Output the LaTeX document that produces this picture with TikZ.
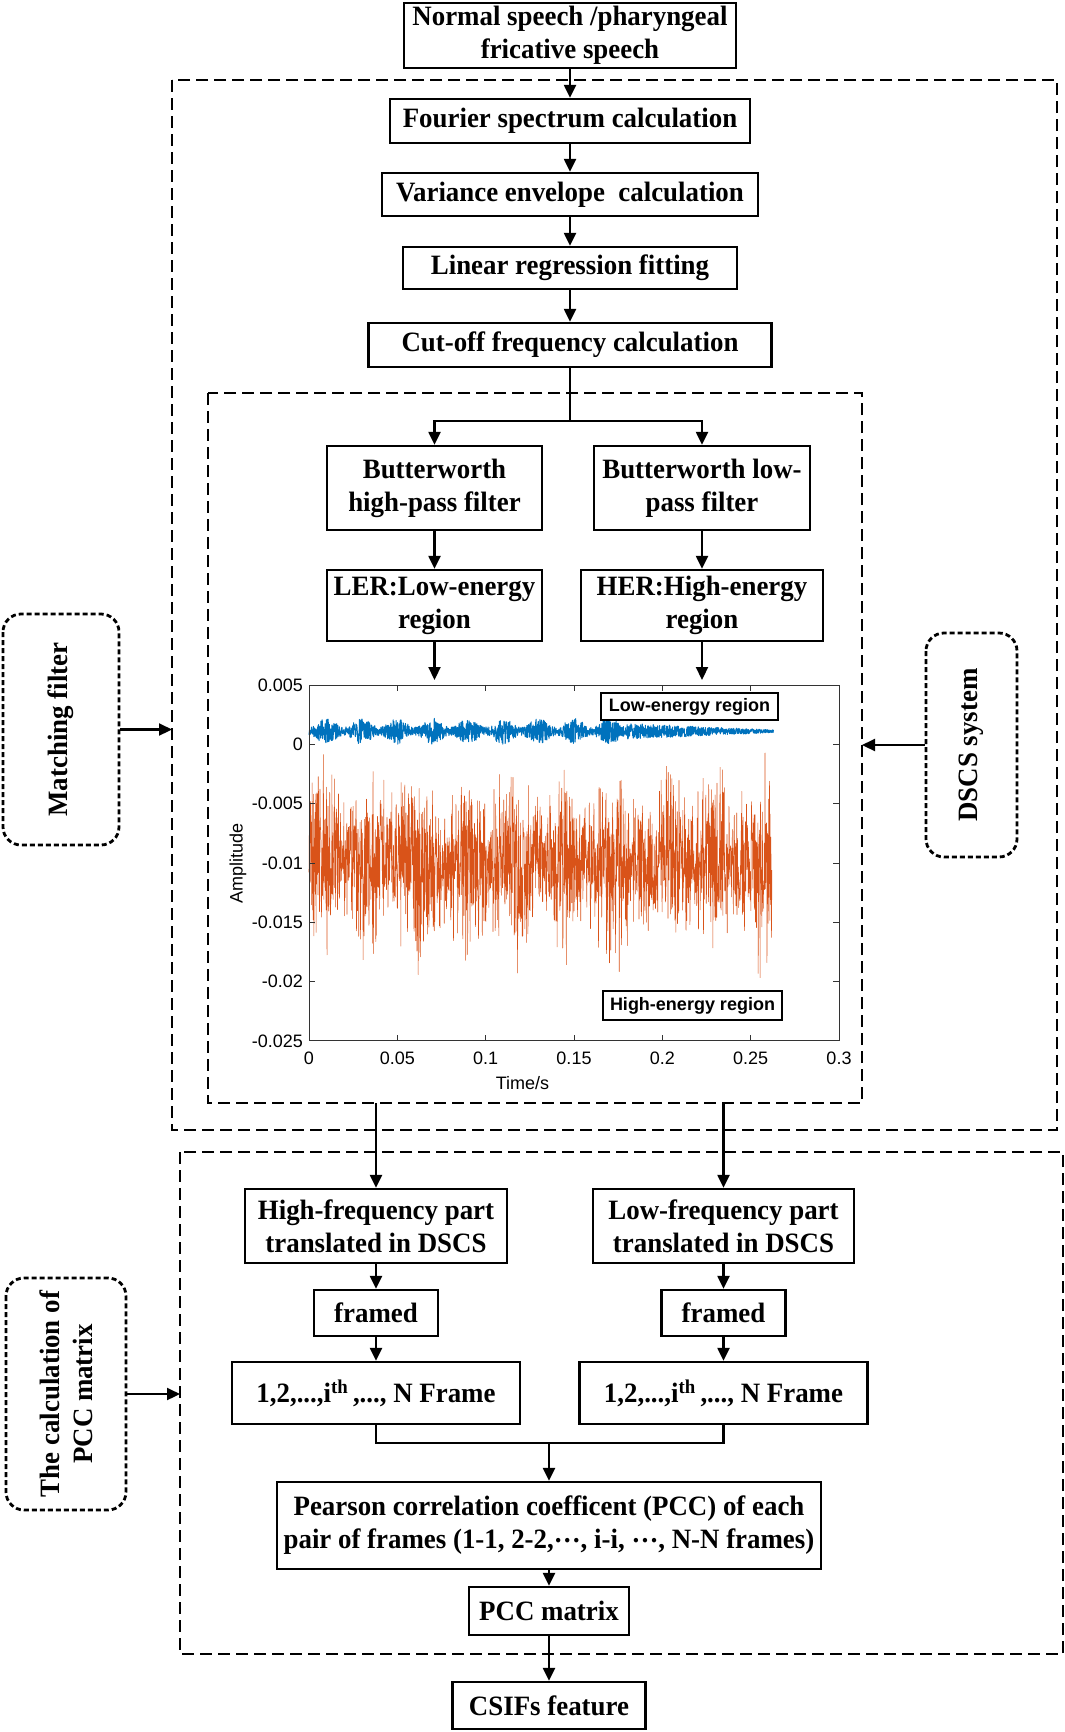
\documentclass[tikz,border=0pt]{standalone}
\usepackage{fontspec}
\setmainfont{Liberation Serif}[FakeStretch=0.96]
\newfontfamily\plotfont{Liberation Sans}
\usetikzlibrary{arrows.meta}
\definecolor{mlblue}{rgb}{0,0.447,0.741}
\definecolor{mlorange}{rgb}{0.85,0.325,0.098}
\newcommand{\mdots}{\raisebox{0.22em}{…}}
\begin{document}
\begin{tikzpicture}[x=1pt,y=-1pt,
  box/.style={draw, line width=2.3pt, fill=white, align=center, inner sep=0pt, font=\bfseries\fontsize{28}{33}\selectfont},
  arr/.style={line width=2.2pt, -{Triangle[length=13pt,width=12pt]}},
  ln/.style={line width=2.2pt},
  region/.style={draw, line width=1.4pt, dash pattern=on 12pt off 6pt},
  side/.style={draw, line width=2.8pt, dash pattern=on 5pt off 3pt, rounded corners=18pt, inner sep=0pt, align=center, rotate=90, font=\bfseries\fontsize{28}{33}\selectfont},
  tick/.style={font=\plotfont\fontsize{18}{20}\selectfont, inner sep=0pt},
  legend/.style={draw, line width=1.4pt, fill=white, font=\plotfont\bfseries\fontsize{18}{20}\selectfont, inner sep=0pt}
]
\useasboundingbox (0,0) rectangle (1065,1732);

% dashed regions
\draw[region] (172,80) rectangle (1057,1130);
\draw[region] (208,393) rectangle (862,1103);
\draw[region] (180,1152) rectangle (1063,1654);

% upper chain
\node[box, minimum width=332, minimum height=65] (src) at (570,35.5) {Normal speech /pharyngeal\\fricative speech};
\node[box, minimum width=360, minimum height=44] (fourier) at (570,121) {Fourier spectrum calculation};
\node[box, minimum width=376, minimum height=43] (variance) at (570,194.5) {Variance envelope \ calculation};
\node[box, minimum width=334, minimum height=42] (linear) at (570,268) {Linear regression fitting};
\node[box, minimum width=403, minimum height=44] (cutoff) at (570,345) {Cut-off frequency calculation};

\draw[arr] (src) -- (fourier);
\draw[arr] (fourier) -- (variance);
\draw[arr] (variance) -- (linear);
\draw[arr] (linear) -- (cutoff);

\node[box, minimum width=215, minimum height=84] (bwhp) at (434.5,488) {Butterworth\\high-pass filter};
\node[box, minimum width=216, minimum height=84] (bwlp) at (702,488) {Butterworth low-\\pass filter};
\node[box, minimum width=215, minimum height=71] (ler) at (434.5,605.5) {LER:Low-energy\\region};
\node[box, minimum width=242, minimum height=71] (her) at (702,605.5) {HER:High-energy\\region};

\coordinate (branch) at (570,421);
\draw[ln] (cutoff.south) -- (branch);
\draw[arr] (branch) -| (bwhp.north);
\draw[arr] (branch) -| (bwlp.north);
\draw[arr] (bwhp) -- (ler);
\draw[arr] (bwlp) -- (her);
\coordinate (plotL) at (434.5,680);
\coordinate (plotR) at (702,680);
\draw[arr] (ler.south) -- (plotL);
\draw[arr] (her.south) -- (plotR);

% plot
\begin{scope}[shift={(309,744.3)}, x=1.76667pt, y=11.86pt]
  \pgfmathsetseed{7}
  \draw[mlorange, line width=0.55pt, line join=round] plot[domain=0:262, samples=1900] (\x, {-10+3.1*(1+0.2*sin(\x*13))*(rand+rand+rand)});
  \draw[mlblue, line width=1pt, line join=round] plot[domain=0:263, samples=1900] (\x, {1.1+rand*((\x<180) ? (0.35+0.75*abs(sin(\x*9))^2) : (0.12+0.55*(263-\x)/83))});
  \draw[black!80, line width=0.8pt] (0,-25) rectangle (300,5);
  \foreach \v in {-20,-15,-10,-5,0} {
    \draw[black!80, line width=0.8pt] (0,\v) -- ++(6pt,0);
    \draw[black!80, line width=0.8pt] (300,\v) -- ++(-6pt,0);
  }
  \foreach \t in {50,100,150,200,250} {
    \draw[black!80, line width=0.8pt] (\t,-25) -- ++(0,6pt);
    \draw[black!80, line width=0.8pt] (\t,5) -- ++(0,-6pt);
  }
  \foreach \v/\l [count=\i] in {5/0.005, 0/0, -5/-0.005, -10/-0.01, -15/-0.015, -20/-0.02, -25/-0.025}
    \node[tick, anchor=east] (yl\i) at ([xshift=-6pt]0,\v) {\l};
  \foreach \t/\l [count=\i] in {0/0, 50/0.05, 100/0.1, 150/0.15, 200/0.2, 250/0.25, 300/0.3}
    \node[tick, anchor=north] (xl\i) at ([yshift=-11pt]\t,-25) {\l};
\end{scope}
\node[tick, rotate=90] (ylab) at (238,863) {Amplitude};
\node[tick] (xlab) at (522.5,1083) {Time/s};
\node[legend, minimum width=177, minimum height=27] (lowleg) at (689.5,706.5) {Low-energy region};
\node[legend, minimum width=179, minimum height=29] (highleg) at (692.5,1005.5) {High-energy region};

% side boxes
\node[side, minimum width=231, minimum height=116] (mf) at (61,729.5) {Matching filter};
\coordinate (mfT) at (172,729.5);
\draw[arr] (mf.south) -- (mfT);
\node[side, minimum width=224, minimum height=91] (dscs) at (971.5,745) {DSCS system};
\coordinate (dscsT) at (862,745);
\draw[arr] (dscs.north) -- (dscsT);
\node[side, minimum width=232, minimum height=120] (pccside) at (66,1394) {The calculation of\\PCC matrix};
\coordinate (pccT) at (180,1394);
\draw[arr] (pccside.south) -- (pccT);

% lower chain
\node[box, minimum width=262, minimum height=74] (hf) at (376,1226) {High-frequency part\\translated in DSCS};
\node[box, minimum width=261, minimum height=74] (lf) at (723.5,1226) {Low-frequency part\\translated in DSCS};
\coordinate (innerL) at (376,1103);
\coordinate (innerR) at (723.5,1103);
\draw[arr] (innerL) -- (hf.north);
\draw[arr] (innerR) -- (lf.north);
\node[box, minimum width=124, minimum height=46] (frL) at (376,1313) {framed};
\node[box, minimum width=124, minimum height=46] (frR) at (723.5,1313) {framed};
\draw[arr] (hf) -- (frL);
\draw[arr] (lf) -- (frR);
\node[box, minimum width=288, minimum height=62] (nfL) at (376,1393) {1,2,...,i\textsuperscript{th}\,,..., N Frame};
\node[box, minimum width=288, minimum height=62] (nfR) at (723.5,1393) {1,2,...,i\textsuperscript{th}\,,..., N Frame};
\draw[arr] (frL) -- (nfL);
\draw[arr] (frR) -- (nfR);
\coordinate (mrg) at (549,1443);
\node[box, minimum width=544, minimum height=87] (pcc) at (549,1525.5) {Pearson correlation coefficent (PCC) of each\\pair of frames (1-1, 2-2,\mdots, i-i, \mdots, N-N frames)};
\draw[ln] (nfL.south) |- (mrg);
\draw[ln] (nfR.south) |- (mrg);
\draw[arr] (mrg) -- (pcc.north);
\node[box, minimum width=160, minimum height=48] (pccm) at (549,1611) {PCC matrix};
\draw[arr] (pcc) -- (pccm);
\node[box, minimum width=193, minimum height=47] (csif) at (549,1705.5) {CSIFs feature};
\draw[arr] (pccm) -- (csif);
\end{tikzpicture}
\end{document}
